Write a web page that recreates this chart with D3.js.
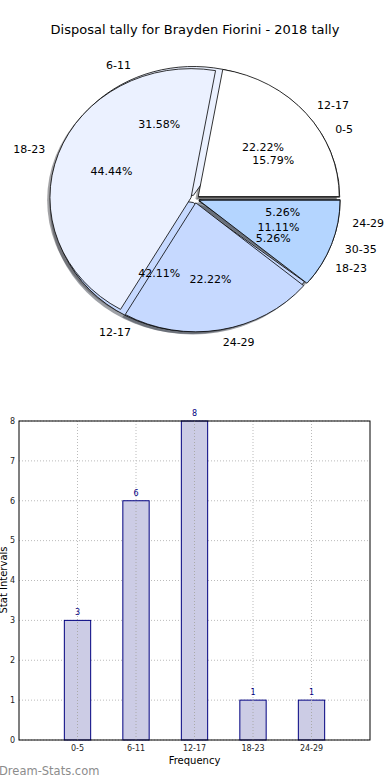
<!DOCTYPE html>
<html>
<head>
<meta charset="utf-8">
<script src="https://cdn.jsdelivr.net/npm/d3@7"></script>
<style>
  body { margin: 0; background: #fff; }
  svg { display: block; font-family: 'DejaVu Sans', sans-serif; }
</style>
</head>
<body>
<svg id="root" width="390" height="780"></svg>
<script>
// tallies per interval (the two overlaid pies in the original)
const seasonLabels = ['0-5', '6-11', '12-17', '18-23', '24-29'];
const seasonValues = [3, 6, 8, 1, 1];
const roundLabels = ['12-17', '18-23', '24-29', '30-35'];
const roundValues = [2, 4, 2, 1];
const yTicks = [0, 1, 2, 3, 4, 5, 6, 7, 8];

const wedgeColors = ['#ffffff', '#ebf1ff', '#c6d9ff', '#b4d5ff', '#9fc4ff'];

const svg = d3.select('#root');

svg.append('text')
  .attr('x', 195).attr('y', 34)
  .attr('text-anchor', 'middle')
  .attr('font-size', 13)
  .text('Disposal tally for Brayden Fiorini - 2018 tally');

// ---- pie -------------------------------------------------------------
const cx = 195, cy = 199, rx = 141, ry = 129;
const explode = 0.03;

const pie = d3.pie().sort(null)
  .startAngle(Math.PI / 2)
  .endAngle(Math.PI / 2 - 2 * Math.PI);
const arc = d3.arc().innerRadius(0).outerRadius(1);

const pieG = svg.append('g');
const shadowLayer = pieG.append('g');
const wedgeLayer = pieG.append('g');
const textLayer = pieG.append('g');

const drawPie = (labels, values) => {
  const sum = d3.sum(values);
  const arcs = pie(values).map((d, i) => {
    const mid = (d.startAngle + d.endAngle) / 2;
    const ux = Math.sin(mid), uy = -Math.cos(mid);
    return {
      ...d,
      i,
      ux, uy,
      ox: cx + ux * explode * rx,
      oy: cy + uy * explode * ry,
    };
  });

  // shadows under everything
  shadowLayer.selectAll(null)
    .data(arcs)
    .enter()
    .append('path')
    .attr('d', arc)
    .attr('transform', d => `translate(${d.ox - 2.8},${d.oy + 2.6}) scale(${rx},${ry})`)
    .attr('fill', d => {
      const c = d3.rgb(wedgeColors[d.i % wedgeColors.length]);
      return d3.rgb(c.r * 0.3, c.g * 0.3, c.b * 0.3);
    })
    .attr('opacity', 0.5);

  wedgeLayer.selectAll(null)
    .data(arcs)
    .enter()
    .append('path')
    .attr('d', arc)
    .attr('transform', d => `translate(${d.ox},${d.oy}) scale(${rx},${ry})`)
    .attr('fill', d => wedgeColors[d.i % wedgeColors.length])
    .attr('stroke', '#000')
    .attr('stroke-width', 0.8)
    .attr('vector-effect', 'non-scaling-stroke');

  // outer labels
  textLayer.selectAll(null)
    .data(arcs)
    .enter()
    .append('text')
    .attr('x', d => d.ox + d.ux * 1.1 * rx)
    .attr('y', d => d.oy + d.uy * 1.1 * ry)
    .attr('dy', '0.35em')
    .attr('text-anchor', d => (d.ux > 0 ? 'start' : 'end'))
    .attr('font-size', 11)
    .text(d => labels[d.i]);

  // percentages
  textLayer.selectAll(null)
    .data(arcs)
    .enter()
    .append('text')
    .attr('x', d => d.ox + d.ux * 0.6 * rx)
    .attr('y', d => d.oy + d.uy * 0.6 * ry)
    .attr('dy', '0.35em')
    .attr('text-anchor', 'middle')
    .attr('font-size', 11)
    .text(d => `${(d.value / sum * 100).toFixed(2)}%`);
};

drawPie(seasonLabels, seasonValues);
drawPie(roundLabels, roundValues);

// ---- bars ------------------------------------------------------------
const x = d3.scaleLinear().domain([-1, 5]).range([19, 370]);
const y = d3.scaleLinear().domain([0, 8]).range([740, 421]);
const barW = 0.45;

const chart = svg.append('g');

// grid
chart.selectAll('.hgrid')
  .data(yTicks)
  .enter()
  .append('line')
  .attr('x1', x(-1)).attr('x2', x(5))
  .attr('y1', d => y(d)).attr('y2', d => y(d))
  .attr('stroke', '#bbb')
  .attr('stroke-dasharray', '1,2');

chart.selectAll('.vgrid')
  .data(seasonLabels)
  .enter()
  .append('line')
  .attr('x1', (_, i) => x(i)).attr('x2', (_, i) => x(i))
  .attr('y1', y(0)).attr('y2', y(8))
  .attr('stroke', '#bbb')
  .attr('stroke-dasharray', '1,2');

chart.selectAll('.bar')
  .data(seasonValues)
  .enter()
  .append('rect')
  .attr('x', (_, i) => x(i - barW / 2))
  .attr('width', x(barW) - x(0))
  .attr('y', d => y(d))
  .attr('height', d => y(0) - y(d))
  .attr('fill', '#ccccE5')
  .attr('stroke', '#000080')
  .attr('stroke-width', 1);

// grid shows through the bars in the original
chart.selectAll('.vgrid2')
  .data(seasonValues)
  .enter()
  .append('line')
  .attr('x1', (_, i) => x(i)).attr('x2', (_, i) => x(i))
  .attr('y1', y(0)).attr('y2', d => y(d))
  .attr('stroke', '#aaa')
  .attr('stroke-dasharray', '1,2');

chart.selectAll('.barval')
  .data(seasonValues)
  .enter()
  .append('text')
  .attr('x', (_, i) => x(i))
  .attr('y', d => y(d) - 5)
  .attr('text-anchor', 'middle')
  .attr('font-size', 8)
  .attr('fill', '#000080')
  .text(d => d);

chart.append('rect')
  .attr('x', x(-1)).attr('y', y(8))
  .attr('width', x(5) - x(-1)).attr('height', y(0) - y(8))
  .attr('fill', 'none')
  .attr('stroke', '#000')
  .attr('stroke-width', 1);

chart.selectAll('.ytick')
  .data(yTicks)
  .enter()
  .append('text')
  .attr('x', 15)
  .attr('y', d => y(d))
  .attr('dy', '0.35em')
  .attr('text-anchor', 'end')
  .attr('font-size', 8)
  .attr('fill', '#222')
  .text(d => d);

chart.selectAll('.xtick')
  .data(seasonLabels)
  .enter()
  .append('text')
  .attr('x', (_, i) => x(i))
  .attr('y', 751)
  .attr('text-anchor', 'middle')
  .attr('font-size', 8)
  .attr('fill', '#222')
  .text(d => d);

svg.append('text')
  .attr('x', x(2)).attr('y', 764)
  .attr('text-anchor', 'middle')
  .attr('font-size', 10)
  .text('Frequency');

svg.append('text')
  .attr('transform', 'translate(7,580) rotate(-90)')
  .attr('text-anchor', 'middle')
  .attr('font-size', 10)
  .text('Stat Intervals');

svg.append('text')
  .attr('x', -1).attr('y', 775)
  .attr('font-size', 11.5)
  .attr('fill', '#8c8c8c')
  .text('Dream-Stats.com');
</script>
</body>
</html>
